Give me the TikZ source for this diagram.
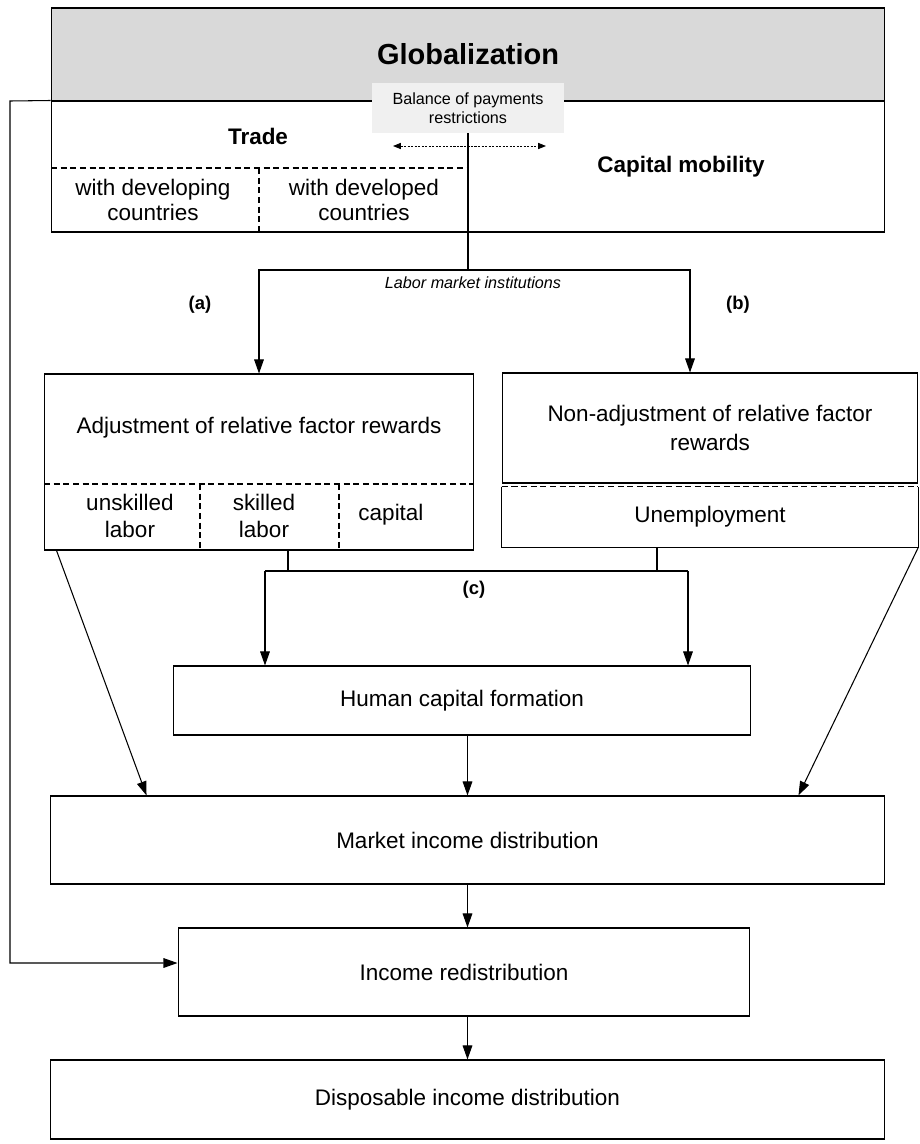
\documentclass[tikz,border=0pt]{standalone}
\usepackage{fontspec}
\setmainfont{Liberation Sans}
\usetikzlibrary{arrows.meta}
\tikzset{
  box/.style={draw, line width=0.6pt, inner sep=1pt, align=center},
  txt/.style={font=\fontsize{12.8}{14.5}\selectfont, align=center, inner sep=1pt},
  head/.style={font=\bfseries\fontsize{12.8}{14.5}\selectfont},
  tag/.style={font=\bfseries\fontsize{10.5}{12}\selectfont},
  note/.style={font=\fontsize{9.2}{11}\selectfont, align=center},
  ln/.style={line width=0.6pt},
  dsh/.style={line width=0.6pt, dash pattern=on 3.5pt off 2pt},
  arr/.style={line width=0.6pt, -{Triangle[length=8pt,width=5.5pt]}},
}
\begin{document}
\begin{tikzpicture}[x=0.02cm, y=-0.02cm]
\useasboundingbox (0,0) rectangle (920,1144);

% Globalization
\node[box, fill=gray!30, minimum width=16.68cm, minimum height=1.86cm,
      font=\bfseries\fontsize{16.5}{20}\selectfont] (glob) at (468,54.5) {Globalization};
\node[box, minimum width=16.68cm, minimum height=2.62cm] (open) at (468,166.5) {};
\node[note, fill=gray!12, minimum width=3.86cm, minimum height=1cm] (bal) at (468,108)
     {Balance of payments\\restrictions};
\draw[line width=0.5pt, dash pattern=on 1.2pt off 0.8pt,
      {Triangle[length=4.5pt,width=3.5pt]}-{Triangle[length=4.5pt,width=3.5pt]}]
     (393,146) -- (546,146);
\node[head] (trade) at (258,136) {Trade};
\node[head] (capmob) at (681,167) {Capital mobility};
\draw[dsh] (51,168) -- (468,168);
\draw[dsh] (259,168) -- (259,232);
\node[txt] (devg) at (153,200) {with developing\\countries};
\node[txt] (devd) at (364,200) {with developed\\countries};

% (a) / (b)
\coordinate (fork) at (468,270);
\draw[ln] (bal.south) -- (fork);
\node[note, font=\itshape\fontsize{9.2}{11}\selectfont] (lmi) at (473,283) {Labor market institutions};
\node[tag] (ta) at (200,305) {(a)};
\node[tag] (tb) at (738,305) {(b)};

\node[box, minimum width=8.58cm, minimum height=3.52cm] (adj) at (259,462) {};
\node[txt] (adjtxt) at (259,428) {Adjustment of relative factor rewards};
\draw[dsh] (adj.west |- 0,484) -- (adj.east |- 0,484);
\draw[dsh] (200,484) -- (200,550);
\draw[dsh] (339,484) -- (339,550);
\node[txt, font=\fontsize{12.8}{15.5}\selectfont] (unsk) at (130,516) {unskilled\\labor};
\node[txt, font=\fontsize{12.8}{15.5}\selectfont] (sk) at (264,516) {skilled\\labor};
\node[txt] (cap) at (391,515) {capital};

\node[box, txt, font=\fontsize{12.8}{16.5}\selectfont, minimum width=8.32cm, minimum height=2.2cm]
     (non) at (710,428) {Non-adjustment of relative factor\\rewards};
\node[txt, minimum width=8.32cm, minimum height=1.2cm] (unemp) at (710,517) {Unemployment};
\draw[ln] (unemp.north west) -- (unemp.south west) -- (unemp.south east) -- (unemp.north east);
\draw[dsh] (unemp.north west) -- (unemp.north east);

\draw[arr] (fork) -| (adj.north);
\draw[arr] (fork) -| ([xshift=-0.4cm]non.north);

% (c)
\node[box, txt, minimum width=11.56cm, minimum height=1.38cm] (hum) at (462,700.5) {Human capital formation};
\coordinate (jl) at (265,571);
\coordinate (jr) at (688,571);
\draw[ln] ([xshift=0.58cm]adj.south) |- (jl) -- (jr);
\draw[ln] ([xshift=-1.06cm]unemp.south) |- (jr);
\draw[arr] (jl) -- (jl |- hum.north);
\draw[arr] (jr) -- (jr |- hum.north);
\node[tag] (tc) at (474,590) {(c)};

% income distribution
\node[box, txt, minimum width=16.7cm, minimum height=1.76cm] (mkt) at (467.5,840) {Market income distribution};
\draw[arr] (hum.south -| mkt.north) -- (mkt.north);
\draw[arr] ([xshift=0.25cm]adj.south west) -- ([xshift=1.94cm]mkt.north west);
\draw[arr] (unemp.south east) -- ([xshift=-1.74cm]mkt.north east);

\node[box, txt, minimum width=11.44cm, minimum height=1.76cm] (red) at (464,972) {Income redistribution};
\draw[arr] (mkt.south) -- (mkt.south |- red.north);
\coordinate (fb) at (10,101);
\draw[arr] (open.north west) -- (fb) |- ([yshift=0.18cm]red.west);

\node[box, txt, minimum width=16.7cm, minimum height=1.58cm] (disp) at (467.5,1099.5) {Disposable income distribution};
\draw[arr] (red.south -| disp.north) -- (disp.north);
\end{tikzpicture}
\end{document}
